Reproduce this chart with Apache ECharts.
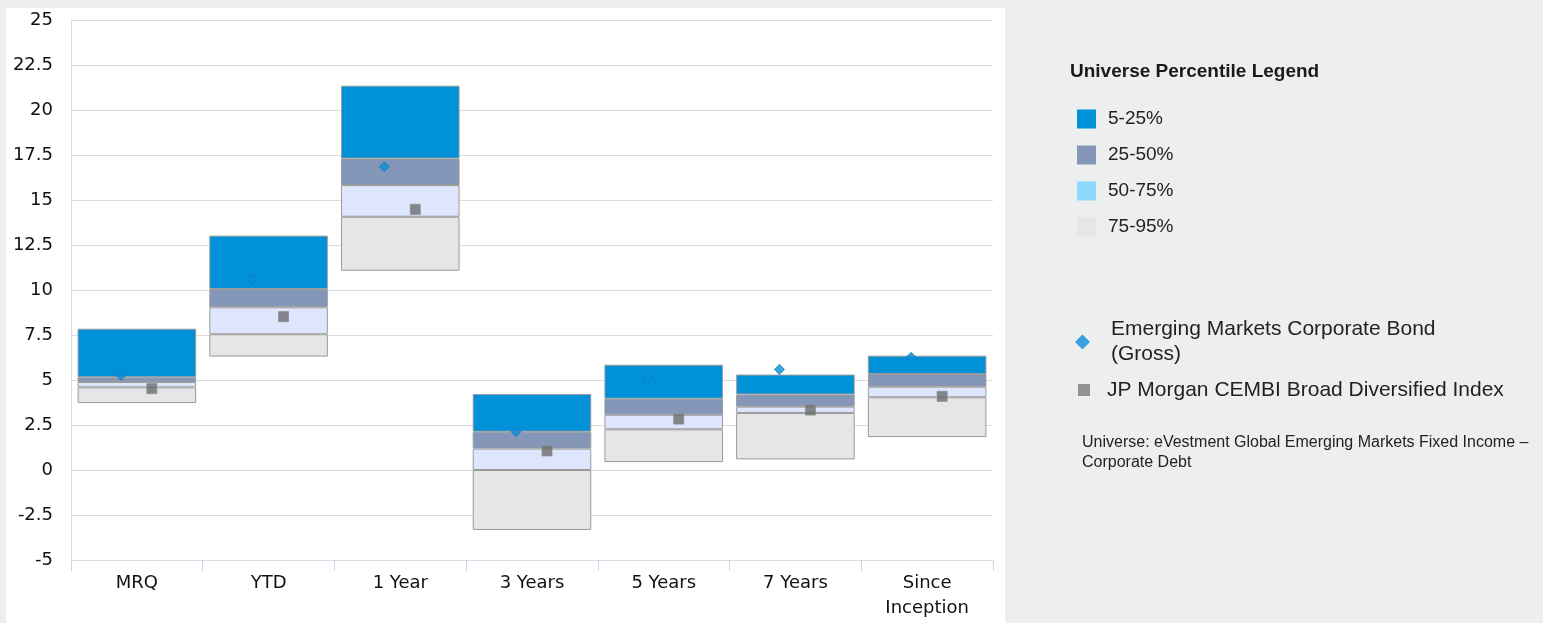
<!DOCTYPE html>
<html>
<head>
<meta charset="utf-8">
<script src="https://cdn.jsdelivr.net/npm/echarts@6/dist/echarts.min.js"></script>
<style>
  html, body { margin: 0; padding: 0; background: #edeeee; }
  #panel { position: absolute; left: 6px; top: 8px; width: 999px; height: 615px; background: #ffffff; }
  #chart { position: absolute; left: 0; top: 0; width: 1543px; height: 623px; }
</style>
</head>
<body>
<div id="panel"></div>
<div id="chart"></div>
<script>
// Categories
const categories = ['MRQ', 'YTD', '1 Year', '3 Years', '5 Years', '7 Years', 'Since\nInception'];
// Universe percentile boundaries (returns, %)
const p5  = [7.85, 13.02, 21.35, 4.22, 5.85, 5.30, 6.35];
const p25 = [5.15, 10.06, 17.30, 2.13, 3.96, 4.20, 5.33];
const p50 = [4.89, 9.04, 15.83, 1.19, 3.07, 3.52, 4.63];
const p75 = [4.59, 7.54, 14.07, 0.00, 2.26, 3.17, 4.04];
const p95 = [3.72, 6.30, 11.07, -3.33, 0.44, 0.59, 1.83];
// Points
const fundReturns  = [5.26, 10.59, 16.85, 2.13, 5.11, 5.59, 6.26];
const benchReturns = [4.52, 8.52, 14.48, 1.06, 2.83, 3.33, 4.09];
// Tick labels
const yTicks = [-5, -2.5, 0, 2.5, 5, 7.5, 10, 12.5, 15, 17.5, 20, 22.5, 25];

const fundName = 'Emerging Markets Corporate Bond (Gross)';
const benchName = 'JP Morgan CEMBI Broad Diversified Index';

const diff = (a, b) => a.map((v, i) => +(v - b[i]).toFixed(4));

const axisFont = 'DejaVu Sans';
const legendFont = 'Liberation Sans';

const bandStyle = (color) => ({ color: color, borderColor: '#9a9a9a', borderWidth: 1 });

const chart = echarts.init(document.getElementById('chart'));
chart.setOption({
  backgroundColor: 'transparent',
  animation: false,
  title: [
    { text: 'Universe Percentile Legend', left: 1065, top: 57,
      textStyle: { fontFamily: legendFont, fontSize: 19, fontWeight: 'bold', color: '#1a1a1a' } },
    { text: 'Universe: eVestment Global Emerging Markets Fixed Income –\nCorporate Debt', left: 1077, top: 428,
      textStyle: { fontFamily: legendFont, fontSize: 16, fontWeight: 'normal', color: '#222', lineHeight: 20 } }
  ],
  legend: [
    {
      orient: 'vertical', left: 1072, top: 104.5,
      itemWidth: 19, itemHeight: 19, itemGap: 17, icon: 'rect',
      itemStyle: { borderWidth: 0 },
      textStyle: { fontFamily: legendFont, fontSize: 19, color: '#222', padding: [0, 0, 0, 7] },
      data: [
        { name: '5-25%' },
        { name: '25-50%' },
        { name: '50-75%', itemStyle: { color: '#8fd8ff' } },
        { name: '75-95%' }
      ],
      selectedMode: false
    },
    {
      orient: 'vertical', left: 1070, top: 312,
      itemWidth: 15, itemHeight: 15, icon: 'diamond',
      itemStyle: { borderWidth: 0, color: '#0a8fd8' },
      textStyle: { fontFamily: legendFont, fontSize: 21, color: '#222', lineHeight: 25, padding: [0, 0, 0, 16] },
      formatter: (n) => n.replace(' (Gross)', '\n(Gross)'),
      data: [fundName], selectedMode: false
    },
    {
      orient: 'vertical', left: 1073, top: 373,
      itemWidth: 12, itemHeight: 12, icon: 'rect',
      itemStyle: { borderWidth: 0, color: '#7a7a7a' },
      textStyle: { fontFamily: legendFont, fontSize: 21, color: '#222', lineHeight: 24, padding: [0, 0, 0, 12] },
      data: [benchName], selectedMode: false
    }
  ],
  grid: { left: 71, top: 20, right: 550, bottom: 63, containLabel: false },
  xAxis: {
    type: 'category',
    data: categories,
    axisLine: { show: true, onZero: false, lineStyle: { color: '#d6dde6', width: 1 } },
    axisTick: { show: true, length: 11, interval: 0, lineStyle: { color: '#c9d6e4' } },
    axisLabel: { fontFamily: axisFont, fontSize: 18, color: '#111', margin: 11, lineHeight: 25, interval: 0 },
    splitLine: { show: false }
  },
  yAxis: {
    type: 'value', min: -5, max: 25, interval: 2.5,
    axisLine: { show: true, lineStyle: { color: '#dcdcdc' } },
    axisTick: { show: false },
    axisLabel: { fontFamily: axisFont, fontSize: 18, color: '#111', margin: 18,
      formatter: (v) => (yTicks.indexOf(v) >= 0 ? String(v) : '') },
    splitLine: { show: true, lineStyle: { color: '#dcdcdc', width: 1 } }
  },
  series: [
    { name: 'base', type: 'bar', stack: 'u', stackStrategy: 'all', barWidth: '90%',
      itemStyle: { color: 'transparent', borderWidth: 0 }, data: p95, silent: true },
    { name: '75-95%', type: 'bar', stack: 'u', stackStrategy: 'all', barWidth: '90%',
      itemStyle: bandStyle('#e5e6e8'), data: diff(p75, p95) },
    { name: '50-75%', type: 'bar', stack: 'u', stackStrategy: 'all', barWidth: '90%',
      itemStyle: bandStyle('#dde6fc'), data: diff(p50, p75) },
    { name: '25-50%', type: 'bar', stack: 'u', stackStrategy: 'all', barWidth: '90%',
      itemStyle: bandStyle('#8497b9'), data: diff(p25, p50) },
    { name: '5-25%', type: 'bar', stack: 'u', stackStrategy: 'all', barWidth: '90%',
      itemStyle: bandStyle('#0091d9'), data: diff(p5, p25) },
    { name: fundName, type: 'scatter', symbol: 'diamond', symbolSize: 10, symbolOffset: [-16, 0], z: 5,
      itemStyle: { color: '#0a8fd8', borderColor: '#0b78bd', borderWidth: 1 }, data: fundReturns },
    { name: benchName, type: 'scatter', symbol: 'rect', symbolSize: 10, symbolOffset: [15, 0], z: 5,
      itemStyle: { color: '#6c6d6f', borderColor: '#8c8c8c', borderWidth: 1 }, data: benchReturns }
  ]
});
</script>
</body>
</html>
